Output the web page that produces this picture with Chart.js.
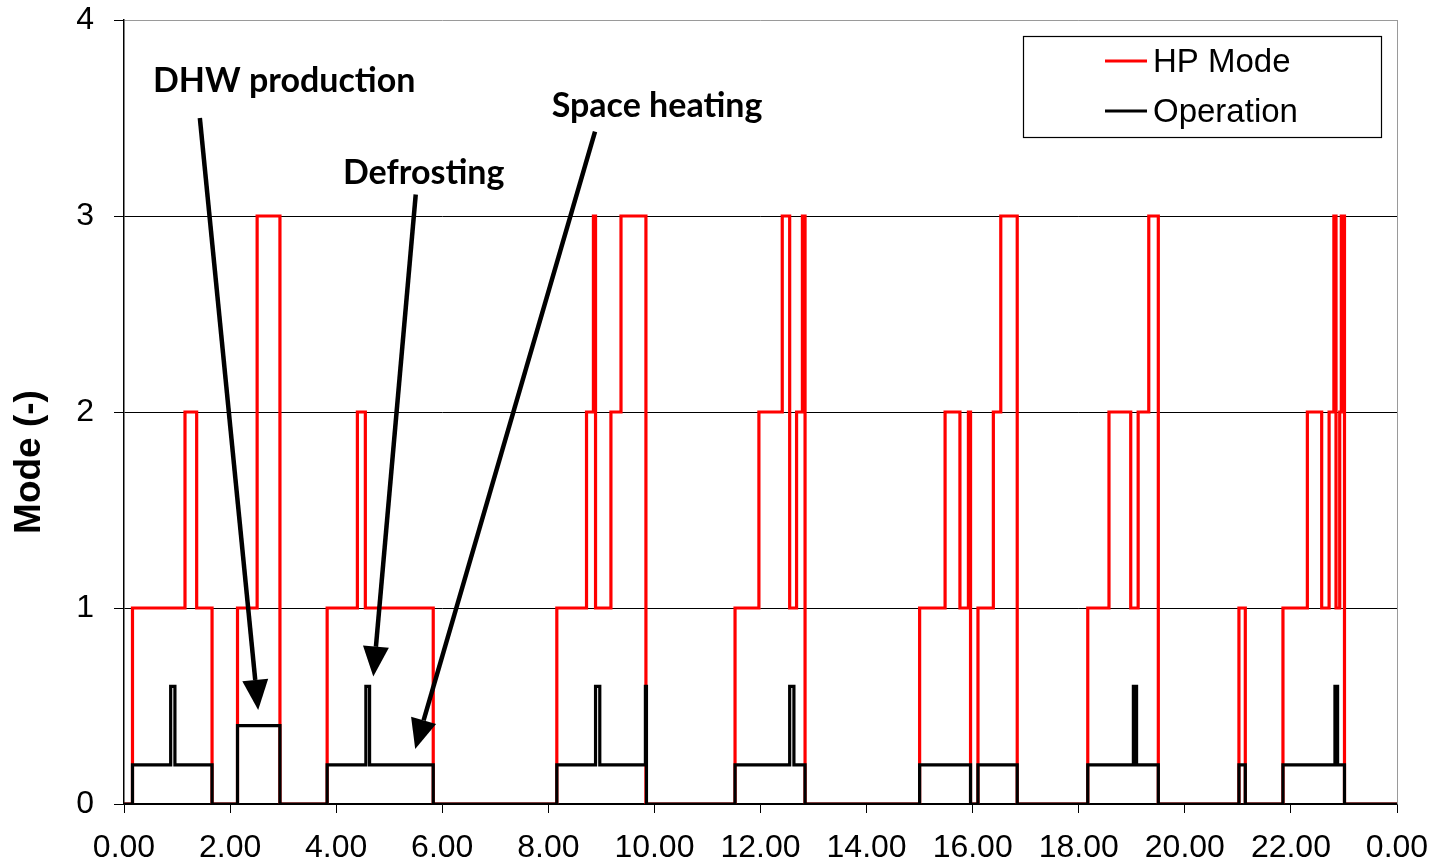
<!DOCTYPE html>
<html>
<head>
<meta charset="utf-8">
<script src="https://cdn.jsdelivr.net/npm/chart.js@4.4.0/dist/chart.umd.min.js"></script>
<style>
body{margin:0;background:#fff}
</style>
</head>
<body>
<canvas id="myChart" width="1439" height="863"></canvas>
<script>
// HP Mode: hour where the mode changes, and the new mode
var modeHours = [0, 0.16, 1.15, 1.37, 1.66, 2.14, 2.51, 2.94, 3.83, 4.40, 4.55, 5.83,
  8.16, 8.72, 8.85, 8.89, 9.18, 9.37, 9.84, 11.52, 11.97, 12.41, 12.55, 12.68, 12.79, 12.84,
  15.00, 15.48, 15.76, 15.92, 15.96, 16.10, 16.39, 16.53, 16.84, 18.17, 18.57, 18.98, 19.12,
  19.32, 19.50, 21.02, 21.14, 21.85, 22.31, 22.58, 22.72, 22.81, 22.85, 22.92, 22.95, 23.01, 24]
var modeValues = [0, 1, 2, 1, 0, 1, 3, 0, 1, 2, 1, 0,
  1, 2, 3, 1, 2, 3, 0, 1, 2, 3, 1, 2, 3, 0,
  1, 2, 1, 2, 0, 1, 2, 3, 0, 1, 2, 1, 2,
  3, 0, 1, 0, 1, 2, 1, 2, 3, 1, 2, 3, 0, 0]

// Operation
var opHours = [0, 0.16, 0.88, 0.96, 1.66, 2.14, 2.94, 3.83, 4.56, 4.63, 5.83,
  8.16, 8.89, 8.97, 9.83, 9.85, 11.52, 12.55, 12.63, 12.84, 15.00, 15.96, 16.10, 16.84,
  18.17, 19.03, 19.09, 19.50, 21.02, 21.14, 21.85, 22.83, 22.88, 23.01, 24]
var opValues = [0, 0.2, 0.6, 0.2, 0, 0.4, 0, 0.2, 0.6, 0.2, 0,
  0.2, 0.6, 0.2, 0.6, 0, 0.2, 0.6, 0.2, 0, 0.2, 0, 0.2, 0,
  0.2, 0.6, 0.2, 0, 0.2, 0, 0.2, 0.6, 0.2, 0, 0]

var seriesNames = ['HP Mode', 'Operation']
var seriesColors = ['#ff0000', '#000000']
var yTitle = 'Mode (-)'

// text labels with arrows, in axis units (hour, mode)
var notes = [
  {text: 'DHW production', at: [3.02, 3.69], from: [1.43, 3.50], to: [2.53, 0.48]},
  {text: 'Defrosting', at: [5.65, 3.22], from: [5.50, 3.11], to: [4.70, 0.65]},
  {text: 'Space heating', at: [10.05, 3.56], from: [8.88, 3.43], to: [5.49, 0.28]}
]

function pts(xs, ys){
  var out = []
  for(var i=0;i<xs.length;i++) out.push({x: xs[i], y: ys[i]})
  return out
}

const extras = {
  id: 'extras',
  afterDatasetsDraw(chart){
    const ctx = chart.ctx
    const a = chart.chartArea
    const sx = chart.scales.x, sy = chart.scales.y
    ctx.save()
    // right border of the plot
    ctx.strokeStyle = '#9a9a9a'
    ctx.lineWidth = 1
    ctx.beginPath()
    ctx.moveTo(a.right + 0.5, a.top)
    ctx.lineTo(a.right + 0.5, a.bottom)
    ctx.stroke()

    // notes + arrows
    ctx.fillStyle = '#000'
    ctx.strokeStyle = '#000'
    ctx.font = 'bold 34px Lato'
    ctx.textAlign = 'center'
    ctx.textBaseline = 'middle'
    notes.forEach(n => {
      ctx.fillText(n.text, sx.getPixelForValue(n.at[0]), sy.getPixelForValue(n.at[1]))
      const x1 = sx.getPixelForValue(n.from[0]), y1 = sy.getPixelForValue(n.from[1])
      const x2 = sx.getPixelForValue(n.to[0]), y2 = sy.getPixelForValue(n.to[1])
      const ang = Math.atan2(y2 - y1, x2 - x1)
      const hl = 30, hw = 13
      const bx = x2 - hl * Math.cos(ang), by = y2 - hl * Math.sin(ang)
      ctx.lineWidth = 4.5
      ctx.beginPath()
      ctx.moveTo(x1, y1)
      ctx.lineTo(bx, by)
      ctx.stroke()
      ctx.beginPath()
      ctx.moveTo(x2, y2)
      ctx.lineTo(bx + hw * Math.sin(ang), by - hw * Math.cos(ang))
      ctx.lineTo(bx - hw * Math.sin(ang), by + hw * Math.cos(ang))
      ctx.closePath()
      ctx.fill()
    })

    // legend box
    const lw = 358, lh = 101
    const lx = a.right - 16 - lw, ly = a.top + 16
    ctx.fillStyle = '#fff'
    ctx.fillRect(lx, ly, lw, lh)
    ctx.lineWidth = 1.2
    ctx.strokeStyle = '#000'
    ctx.strokeRect(lx + 0.5, ly + 0.5, lw, lh)
    ctx.font = '33px "Liberation Sans", Arial'
    ctx.textAlign = 'left'
    seriesNames.forEach((nm, i) => {
      const yy = ly + 25 + i * 50
      ctx.strokeStyle = seriesColors[i]
      ctx.lineWidth = 3
      ctx.beginPath()
      ctx.moveTo(lx + 82, yy)
      ctx.lineTo(lx + 124, yy)
      ctx.stroke()
      ctx.fillStyle = '#000'
      ctx.fillText(nm, lx + 130, yy + 2)
    })

    // y axis title
    ctx.translate(30, (a.top + a.bottom) / 2 + 50)
    ctx.rotate(-Math.PI / 2)
    ctx.font = 'bold 37px "Liberation Sans", Arial'
    ctx.textAlign = 'center'
    ctx.fillStyle = '#000'
    ctx.fillText(yTitle, 0, 0)
    ctx.restore()
  }
}

new Chart(document.getElementById('myChart'), {
  type: 'line',
  data: {
    datasets: [
      {label: seriesNames[1], data: pts(opHours, opValues), borderColor: seriesColors[1],
       borderWidth: 3.2, stepped: true, pointRadius: 0, order: 0},
      {label: seriesNames[0], data: pts(modeHours, modeValues), borderColor: seriesColors[0],
       borderWidth: 3.2, stepped: true, pointRadius: 0, order: 1}
    ]
  },
  options: {
    responsive: false,
    animation: false,
    layout: {padding: {top: 20, right: 42, left: 0, bottom: 0}},
    plugins: {legend: {display: false}, tooltip: {enabled: false}},
    scales: {
      x: {
        type: 'linear', min: 0, max: 24,
        afterFit: s => { s.height = 59; s.paddingLeft = 0; s.paddingRight = 0 },
        ticks: {stepSize: 2, color: '#000', padding: 16, maxRotation: 0,
          font: {family: '"Liberation Sans", Arial', size: 32},
          callback: v => (v % 24).toFixed(2)},
        grid: {drawOnChartArea: false, drawTicks: true, tickLength: 9, color: '#000'},
        border: {color: '#000', width: 1.5}
      },
      y: {
        min: 0, max: 4,
        afterFit: s => { s.width = 124; s.paddingTop = 0; s.paddingBottom = 0 },
        ticks: {stepSize: 1, color: '#000', padding: 20,
          font: {family: '"Liberation Sans", Arial', size: 32}},
        grid: {color: c => c.tick && c.tick.value === 4 ? '#9a9a9a' : '#000', lineWidth: 1,
          tickLength: 10, tickColor: '#000'},
        border: {color: '#000', width: 1.5}
      }
    }
  },
  plugins: [extras]
})
</script>
</body>
</html>
